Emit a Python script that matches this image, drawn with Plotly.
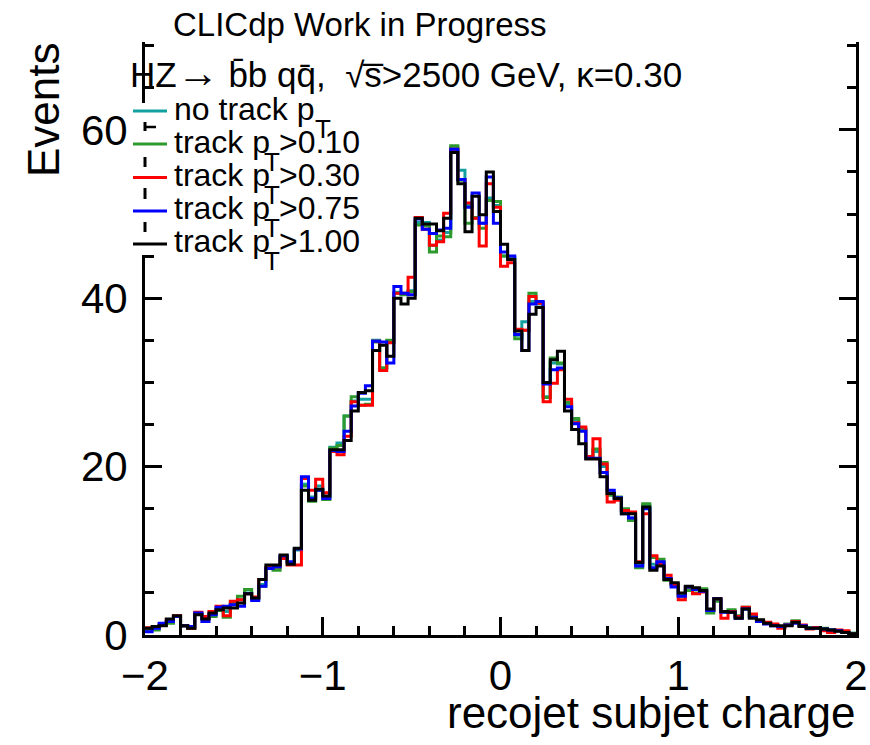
import numpy as np
import plotly.graph_objects as go

# ---------------- data ----------------
bin_edges = np.round(np.linspace(-2.0, 2.0, 101), 4)

no_track_pt = [
    0.7, 0.8, 1.2, 1.6, 2.2, 1.1, 0.8, 2.5, 2.0, 2.4,
    3.1, 2.8, 3.6, 4.2, 5.0, 4.3, 6.0, 8.0, 8.0, 9.3,
    8.6, 10.1, 17.9, 16.4, 17.7, 16.4, 22.3, 22.8, 26.0, 27.8,
    28.0, 28.0, 35.0, 31.7, 34.8, 40.7, 40.5, 40.9, 49.0, 49.0,
    46.3, 46.9, 47.8, 57.9, 55.2, 51.0, 49.5, 48.9, 51.9, 51.0,
    45.0, 44.9, 35.6, 37.2, 39.6, 39.3, 28.3, 32.3, 32.2, 27.4,
    25.5, 24.4, 21.2, 21.8, 20.0, 16.9, 16.3, 14.8, 13.9, 8.3,
    15.4, 8.4, 8.6, 6.6, 6.0, 4.7, 5.6, 5.4, 5.4, 2.9,
    4.1, 2.8, 2.8, 2.1, 3.1, 2.1, 1.7, 1.4, 1.2, 1.0,
    1.2, 1.5, 1.1, 0.9, 0.8, 0.7, 0.6, 0.5, 0.4, 0.2]

track_pt_010 = [
    0.6, 0.6, 1.2, 1.4, 2.2, 1.1, 0.8, 2.5, 2.0, 2.2,
    2.9, 2.1, 3.8, 4.6, 5.4, 4.4, 5.8, 7.9, 7.7, 9.3,
    8.6, 10.2, 17.7, 15.9, 17.2, 16.1, 22.2, 22.5, 26.0, 28.3,
    27.3, 27.4, 34.8, 31.7, 35.0, 40.6, 40.4, 40.8, 48.7, 48.6,
    45.5, 47.4, 47.3, 58.1, 54.0, 48.9, 49.6, 48.3, 51.6, 51.5,
    45.0, 44.8, 35.2, 36.2, 40.6, 39.5, 28.2, 32.9, 32.3, 27.6,
    25.7, 24.5, 21.0, 22.1, 20.5, 16.6, 16.4, 15.0, 13.6, 8.0,
    15.6, 9.2, 9.0, 6.5, 5.9, 4.6, 5.3, 5.0, 5.5, 2.6,
    4.0, 2.7, 3.0, 2.3, 3.3, 2.2, 1.6, 1.4, 1.2, 1.0,
    1.3, 1.7, 1.1, 0.9, 0.8, 0.8, 0.6, 0.5, 0.4, 0.2]

track_pt_030 = [
    0.87, 0.9, 1.3, 1.8, 2.3, 1.1, 0.8, 2.7, 2.2, 2.8,
    3.4, 2.3, 4.0, 4.2, 4.9, 4.5, 6.6, 8.0, 8.1, 9.1,
    8.3, 8.3, 18.6, 17.2, 18.5, 16.9, 21.8, 21.4, 23.6, 27.7,
    27.3, 27.3, 34.9, 31.4, 34.7, 40.6, 40.6, 42.5, 49.6, 48.2,
    46.3, 46.7, 50.1, 57.7, 54.1, 51.3, 49.5, 46.2, 53.6, 50.8,
    43.8, 44.2, 36.3, 36.2, 40.2, 39.4, 27.7, 29.9, 31.5, 28.0,
    25.2, 24.7, 21.2, 23.3, 20.3, 15.8, 16.0, 14.8, 14.6, 8.7,
    14.4, 9.4, 8.5, 7.1, 6.0, 4.2, 5.7, 4.9, 5.1, 2.9,
    4.3, 2.0, 2.8, 2.2, 3.3, 2.5, 1.7, 1.5, 1.3, 0.8,
    1.2, 1.6, 1.2, 0.7, 0.9, 0.5, 0.3, 0.6, 0.5, 0.1]

track_pt_075 = [
    0.4, 0.8, 1.4, 1.6, 2.2, 1.1, 1.0, 2.6, 1.6, 2.4,
    3.3, 3.4, 3.6, 3.4, 4.9, 4.1, 5.8, 7.9, 8.1, 9.4,
    8.7, 10.2, 18.8, 16.2, 17.2, 16.2, 21.9, 21.8, 24.2, 27.2,
    28.7, 29.6, 34.9, 34.8, 32.3, 41.4, 40.6, 40.4, 49.4, 48.2,
    47.7, 48.1, 48.3, 57.7, 54.1, 50.8, 52.5, 48.9, 54.4, 48.9,
    45.5, 45.0, 35.7, 33.8, 39.3, 39.6, 29.8, 31.5, 31.7, 27.1,
    25.1, 24.2, 21.0, 21.0, 19.3, 17.2, 16.3, 14.4, 13.9, 8.2,
    15.0, 8.0, 8.7, 6.7, 5.7, 4.6, 5.7, 5.4, 5.2, 2.9,
    4.3, 2.7, 2.7, 2.0, 3.1, 2.1, 1.6, 1.3, 1.1, 1.0,
    1.2, 1.4, 1.1, 0.8, 0.8, 0.7, 0.6, 0.5, 0.3, 0.1]

track_pt_100 = [
    0.8, 1.0, 1.1, 1.9, 2.3, 1.1, 0.8, 2.4, 1.9, 2.6,
    3.0, 3.2, 3.2, 3.8, 4.9, 4.4, 6.6, 8.3, 8.3, 9.5,
    8.4, 10.3, 17.2, 16.0, 17.3, 16.5, 22.0, 22.0, 23.1, 26.6,
    28.8, 29.0, 33.8, 34.4, 33.1, 40.0, 39.3, 40.0, 49.5, 48.8,
    48.8, 48.0, 49.5, 57.3, 53.6, 47.9, 52.1, 49.9, 55.0, 50.3,
    46.4, 44.6, 36.1, 33.8, 38.1, 38.9, 30.0, 32.7, 33.7, 26.6,
    24.4, 22.7, 20.9, 20.9, 18.8, 16.8, 16.2, 14.4, 14.4, 8.6,
    15.2, 7.7, 8.2, 6.6, 6.2, 5.0, 5.8, 5.6, 5.3, 3.1,
    4.3, 2.8, 2.7, 2.0, 3.1, 2.0, 1.8, 1.4, 1.1, 1.1,
    1.1, 1.5, 1.0, 0.8, 0.8, 0.7, 0.6, 0.45, 0.3, 0.15]

legend_prefix = ["no track p", "track p", "track p", "track p", "track p"]
legend_suffix = ["", ">0.10", ">0.30", ">0.75", ">1.00"]
x_tick_vals = [-2, -1, 0, 1, 2]
y_tick_vals = [0, 20, 40, 60]

series = [no_track_pt, track_pt_010, track_pt_030, track_pt_075, track_pt_100]
colors = ["#12A0A0", "#2E9A2E", "#FF0000", "#0000FF", "#000000"]

FONT = "Liberation Sans, Arial, sans-serif"
W, H = 870, 745
L, R, T, B = 145, 856, 42, 635


def fx(px):
    return (px - L) / (R - L)


def fy(py):
    return (B - py) / (B - T)


fig = go.Figure()
for vals, col in zip(series, colors):
    fig.add_trace(go.Scatter(
        x=bin_edges, y=list(vals) + [vals[-1]], mode="lines",
        line=dict(color=col, width=3, shape="hv"),
        showlegend=False, hoverinfo="skip"))

fig.update_layout(
    width=W, height=H,
    margin=dict(l=L, r=W - R, t=T, b=H - B, pad=0, autoexpand=False),
    paper_bgcolor="white", plot_bgcolor="white",
    font=dict(family=FONT, color="black"),
    showlegend=False,
)

fig.update_xaxes(
    range=[-2, 2], tickvals=x_tick_vals, ticks="inside", ticklen=18,
    tickwidth=2.5, tickcolor="black", showline=True, linewidth=3,
    linecolor="black", mirror=False, showgrid=False, zeroline=False,
    automargin=False,
    tickfont=dict(size=42, family=FONT, color="black"),
    ticklabelstandoff=2,
    minor=dict(tick0=-2, dtick=0.2, ticks="inside", ticklen=9,
               tickwidth=2.5, tickcolor="black", showgrid=False),
)
fig.update_yaxes(
    range=[0, 70.43], tickvals=y_tick_vals, ticks="inside", ticklen=17,
    tickwidth=2.5, tickcolor="black", showline=True, linewidth=3,
    linecolor="black", mirror="ticks", showgrid=False, zeroline=False,
    automargin=False,
    tickfont=dict(size=42, family=FONT, color="black"),
    ticklabelstandoff=6,
    minor=dict(tick0=0, dtick=5, ticks="inside", ticklen=9,
               tickwidth=2.5, tickcolor="black", showgrid=False),
)
# top frame axis (different tick spacing as in the original canvas)
fig.update_layout(xaxis2=dict(
    overlaying="x", side="top", anchor="y", range=[0.0215, 4.6],
    tick0=0, dtick=1, ticks="inside", ticklen=16, tickwidth=2.5,
    tickcolor="black", showticklabels=False, showline=True, linewidth=3,
    linecolor="black", showgrid=False, zeroline=False, automargin=False,
    minor=dict(dtick=0.2, ticks="inside", ticklen=10, tickwidth=2.5,
               tickcolor="black", showgrid=False),
))

shapes = []
# legend box covering part of the left frame
shapes.append(dict(type="rect", xref="paper", yref="paper",
                   x0=fx(138), x1=fx(166), y0=fy(255), y1=fy(103),
                   fillcolor="white", line=dict(width=0), layer="above"))
for a, b in [(122, 131), (157, 167), (188, 199), (222, 232)]:
    shapes.append(dict(type="line", xref="paper", yref="paper",
                       x0=fx(145), x1=fx(145), y0=fy(b), y1=fy(a),
                       line=dict(color="black", width=3), layer="above"))
shapes.append(dict(type="line", xref="paper", yref="paper",
                   x0=fx(144), x1=fx(156), y0=fy(127), y1=fy(127),
                   line=dict(color="black", width=2.5), layer="above"))
legend_y = [111, 144, 177.5, 211, 244]
for yy, col in zip(legend_y, colors):
    shapes.append(dict(type="line", xref="paper", yref="paper",
                       x0=fx(133), x1=fx(167), y0=fy(yy), y1=fy(yy),
                       line=dict(color=col, width=3), layer="above"))
fig.update_layout(shapes=shapes)

ann = []


def text(s, px, py, size, xanchor="left", angle=0):
    ann.append(dict(text=s, x=fx(px), y=fy(py), xref="paper", yref="paper",
                    xanchor=xanchor, yanchor="middle", showarrow=False,
                    textangle=angle,
                    font=dict(size=size, family=FONT, color="black")))


text("CLICdp Work in Progress", 171, 24, 33)
text("HZ<span style='font-size:42px'>\u2192</span> b\u0304b qq\u0304,  "
     "\u221as\u0305>2500 GeV, \u03ba=0.30", 128, 73, 35)

row_y = [108.5, 141.7, 174.9, 208.1, 241.3]
for i, (pre, suf, ry) in enumerate(zip(legend_prefix, legend_suffix, row_y)):
    text(pre, 172, ry, 32)
    tx = 323 if i == 0 else 272
    text("T", tx, ry + 20, 26, xanchor="center")
    if suf:
        text(suf, 277, ry, 32)

text("Events", 44, 110, 44, xanchor="center", angle=-90)
text("recojet subjet charge", 857, 712, 44, xanchor="right")

fig.update_layout(annotations=ann)

fig.write_html("out.html")
